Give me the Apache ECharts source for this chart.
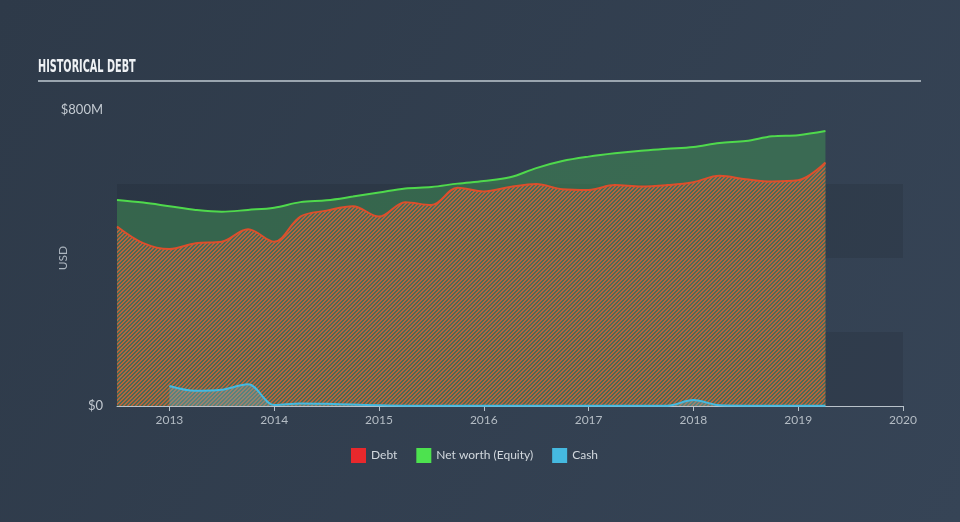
<!DOCTYPE html>
<html><head><meta charset="utf-8">
<script src="https://cdn.jsdelivr.net/npm/echarts@6/dist/echarts.min.js"></script>
<style>html,body{margin:0;padding:0;background:#323f4e;}#c{width:960px;height:522px;}</style>
</head><body><div id="c"></div>
<script>
// Quarter dates as decimal years
const dates = [2012.5, 2012.75, 2013.0, 2013.25, 2013.5, 2013.75, 2014.0, 2014.25, 2014.5, 2014.75,
  2015.0, 2015.25, 2015.5, 2015.75, 2016.0, 2016.25, 2016.5, 2016.75, 2017.0, 2017.25, 2017.5, 2017.75,
  2018.0, 2018.25, 2018.5, 2018.75, 2019.0, 2019.26];
// Values in $M
const debt = [485, 440, 424, 440, 444, 478, 444, 512, 528, 540,
  512, 551, 543, 590, 580, 592, 600, 586, 584, 597, 593, 597,
  605, 622, 613, 607, 610, 658];
const equity = [557, 550, 540, 530, 525, 530, 536, 551, 556, 566,
  577, 588, 592, 601, 608, 618, 643, 662, 674, 683, 690, 695,
  700, 711, 716, 729, 732, 743];
const cash = [null, null, 54, 41, 44, 59, 3, 7, 6, 4,
  2, 1, 1, 1, 1, 1, 1, 1, 1, 1, 1, 1,
  16, 2, 1, 1, 1, 1];
const yearTicks = [2013, 2014, 2015, 2016, 2017, 2018, 2019, 2020];
const seriesNames = ['Debt', 'Net worth (Equity)', 'Cash'];

function pairs(vals) {
  const out = [];
  vals.forEach((v, i) => { if (v !== null) out.push([dates[i], v]); });
  return out;
}

function hatch(fg, bg) {
  const cv = document.createElement('canvas');
  cv.width = 4; cv.height = 4;
  const ctx = cv.getContext('2d');
  for (let x = 0; x < 4; x++) for (let y = 0; y < 4; y++) {
    ctx.fillStyle = ((x + y) % 4 < 2) ? fg : bg;
    ctx.fillRect(x, y, 1, 1);
  }
  return cv;
}

const chart = echarts.init(document.getElementById('c'), null, {renderer: 'canvas'});
const font = 'Lato, "Open Sans", sans-serif';
chart.setOption({
  backgroundColor: new echarts.graphic.LinearGradient(0, 0, 1, 1, [
    {offset: 0, color: '#2e3a49'}, {offset: 1, color: '#364456'}]),
  animation: false,
  graphic: [
    {type: 'text', left: 38, top: 58, style: {text: 'HISTORICAL DEBT', fill: '#eef1f4',
      font: 'bold 18px "DejaVu Sans Condensed", sans-serif'}, scaleX: 0.6},
    {type: 'line', shape: {x1: 38, y1: 81, x2: 921, y2: 81}, style: {stroke: '#9aa5af', lineWidth: 2}}
  ],
  grid: {left: 117, right: 57, top: 110, bottom: 116},
  legend: {
    bottom: 54, left: 346, itemWidth: 15, itemHeight: 15, itemGap: 19, icon: 'rect',
    textStyle: {color: '#d2d8de', fontSize: 12, fontFamily: font},
    data: [
      {name: seriesNames[0], itemStyle: {color: '#e8282c'}},
      {name: seriesNames[1], itemStyle: {color: '#4de24f'}},
      {name: seriesNames[2], itemStyle: {color: '#45b9e0'}}
    ]
  },
  xAxis: {
    type: 'value', min: 2012.5, max: 2020,
    axisLine: {show: true, lineStyle: {color: '#b9c2ca', width: 1}},
    axisTick: {show: true, customValues: yearTicks, length: 5, lineStyle: {color: '#b9c2ca'}},
    axisLabel: {customValues: yearTicks, color: '#b4bcc4', fontSize: 12, fontFamily: font, margin: 8,
      formatter: v => String(v)},
    splitLine: {show: false}
  },
  yAxis: {
    type: 'value', min: 0, max: 800, interval: 200,
    name: 'USD', nameLocation: 'middle', nameGap: 48, nameRotate: 90, nameMoveOverlap: false,
    nameTextStyle: {color: '#aeb7c0', fontSize: 12, fontFamily: font},
    axisLine: {show: false}, axisTick: {show: false},
    axisLabel: {color: '#c3cad1', fontSize: 13, fontFamily: font, margin: 14,
      formatter: v => v === 0 ? '$0' : (v === 800 ? '$800M' : '')},
    splitLine: {show: false},
    splitArea: {show: true, areaStyle: {color: ['rgba(0,0,0,0.09)', 'rgba(0,0,0,0)']}}
  },
  series: [
    {
      name: seriesNames[1], type: 'line', z: 2, smooth: 0.35, symbol: 'none',
      data: pairs(equity),
      lineStyle: {color: '#4fd94c', width: 2},
      itemStyle: {color: '#4de24f'},
      areaStyle: {color: 'rgba(64,140,84,0.55)', opacity: 1}
    },
    {
      name: seriesNames[0], type: 'line', z: 3, smooth: 0.35, symbol: 'none',
      data: pairs(debt),
      lineStyle: {color: '#dc4f2c', width: 2},
      itemStyle: {color: '#e8282c'},
      areaStyle: {color: {image: hatch('rgba(196,100,58,0.9)', 'rgba(100,110,95,0.45)'), repeat: 'repeat'}, opacity: 1}
    },
    {
      name: seriesNames[2], type: 'line', z: 4, smooth: 0.35, symbol: 'none',
      data: pairs(cash),
      lineStyle: {color: '#45b9e0', width: 2},
      itemStyle: {color: '#45b9e0'},
      areaStyle: {color: 'rgba(110,180,200,0.35)', opacity: 1}
    }
  ]
});
</script></body></html>
